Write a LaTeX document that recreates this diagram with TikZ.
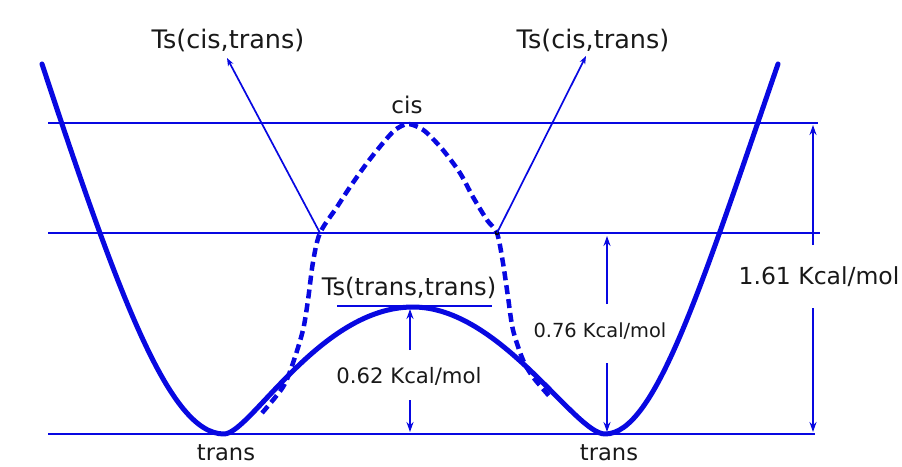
\documentclass[tikz,border=0pt]{standalone}
\usepackage{fontspec}
\setmainfont{DejaVu Sans}
\usetikzlibrary{arrows.meta}
\definecolor{lblue}{RGB}{8,8,225}
\definecolor{ink}{RGB}{25,25,25}
\begin{document}
\begin{tikzpicture}[x=1pt,y=-1pt,
  level/.style={draw=lblue, line width=2.6pt},
  pes/.style={draw=lblue, line width=5pt, line join=round, line cap=round},
  cispes/.style={draw=lblue, line width=4.5pt, dash pattern=on 9pt off 5pt},
  ptr/.style={draw=lblue, line width=1.7pt, -{Stealth[length=8pt,width=6pt]}},
  dim/.style={draw=lblue, line width=2pt, -{Stealth[length=10pt,width=7pt]}},
  lab/.style={text=ink, anchor=base, inner sep=0pt},
]
\useasboundingbox[fill=white] (0,0) rectangle (902,466);

% energy levels
\coordinate (topL) at (48,123);  \coordinate (topR) at (818,123);
\coordinate (midL) at (48,233);  \coordinate (midR) at (820,233);
\coordinate (botL) at (48,434);  \coordinate (botR) at (815,434);
\draw[level] (topL) -- (topR);
\draw[level] (midL) -- (midR);
\draw[level] (botL) -- (botR);

% trans potential (solid)
\coordinate (startL) at (42,64);
\coordinate (minL) at (224,434);
\coordinate (hump) at (413,307);
\coordinate (minR) at (605,434);
\coordinate (endR) at (778,64);
\draw[pes] (startL) .. controls (120,300) and (170,434) .. (minL)
  .. controls (250,434) and (320,307) .. (hump)
  .. controls (500,307) and (575,434) .. (minR)
  .. controls (655,434) and (700,290) .. (endR);

% cis potential (dashed)
\draw[cispes] plot[smooth, tension=0.5] coordinates {
 (262,413) (283,387) (293,363) (303,330) (308,300) (313,262) (320,233)
 (337,207) (350,187) (367,163) (383,143) (395,130) (407,124) (418,127)
 (427,133) (443,150) (460,173) (473,197) (487,220) (497,233) (503,263)
 (508,297) (513,330) (523,360) (533,377) (550,397)};

% crossing points and Ts(cis,trans) pointers
\coordinate (cuspL) at (320,233);
\coordinate (cuspR) at (497,233);
\coordinate (tipL) at (227,58);
\coordinate (tipR) at (586,56);
\fill[black] (cuspR) circle (2.2pt);
\draw[ptr] (cuspL) -- (tipL);
\draw[ptr] (cuspR) -- (tipR);

% labels
\node[lab, font=\fontsize{25.5}{30}\selectfont] (tsL) at (228,48) {Ts(cis,trans)};
\node[lab, font=\fontsize{25.5}{30}\selectfont] (tsR) at (593,48) {Ts(cis,trans)};
\node[lab, font=\fontsize{23}{28}\selectfont] (cis) at (407,113) {cis};
\node[lab, font=\fontsize{24.2}{29}\selectfont] (tstt) at (409,295) {Ts(trans,trans)};
\node[lab, font=\fontsize{21.2}{26}\selectfont] (e062) at (409,383) {0.62 Kcal/mol};
\node[lab, font=\fontsize{19.4}{24}\selectfont] (e076) at (600,337) {0.76 Kcal/mol};
\node[lab, font=\fontsize{23.5}{28}\selectfont] (e161) at (819,284) {1.61 Kcal/mol};
\node[lab, font=\fontsize{22.6}{27}\selectfont] (trL) at (226,460) {trans};
\node[lab, font=\fontsize{22.6}{27}\selectfont] (trR) at (609,460) {trans};

% underline of Ts(trans,trans)
\coordinate (ulA) at (337,306); \coordinate (ulB) at (492,306);
\draw[draw=lblue, line width=1.6pt] (ulA) -- (ulB);

% dimension arrows
\coordinate (d62a) at (410,350); \coordinate (d62b) at (410,309);
\coordinate (d62c) at (410,400); \coordinate (d62d) at (410,432);
\draw[dim] (d62a) -- (d62b);
\draw[dim] (d62c) -- (d62d);

\coordinate (d76a) at (607,304); \coordinate (d76b) at (607,236);
\coordinate (d76c) at (607,363); \coordinate (d76d) at (607,432);
\draw[dim] (d76a) -- (d76b);
\draw[dim] (d76c) -- (d76d);

\coordinate (d61a) at (813,245); \coordinate (d61b) at (813,125);
\coordinate (d61c) at (813,308); \coordinate (d61d) at (813,432);
\draw[dim] (d61a) -- (d61b);
\draw[dim] (d61c) -- (d61d);
\end{tikzpicture}
\end{document}
